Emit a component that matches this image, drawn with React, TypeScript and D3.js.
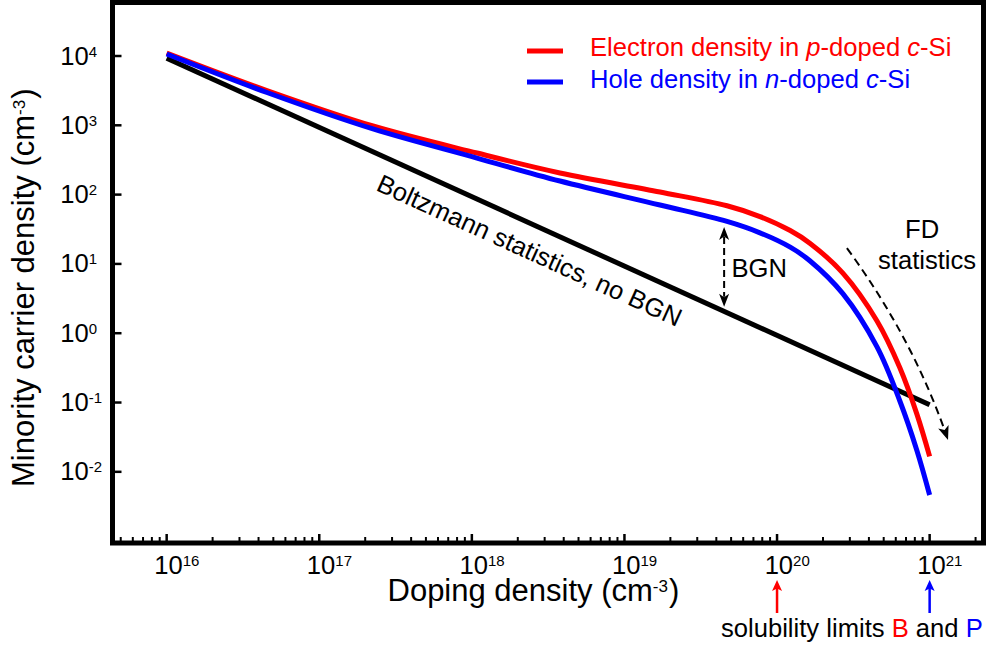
import React from "react";
import * as d3 from "d3";

// ---- data ----
const dopingLevels = [1e16, 4.54e16, 2.25e17, 1.08e18, 3.78e18, 1.71e19, 4.7e19, 7.73e19, 1.22e20, 1.64e20, 2.7e20, 4.52e20, 6.38e20, 8.26e20, 1e21];
const electronDensity = [11040, 3177, 977, 398, 205, 109, 69.0, 48.2, 30.3, 19.9, 7.36, 1.5, 0.317, 0.0675, 0.0167];
const holeDensity = [10690, 2972, 885, 337, 157, 70.8, 41.0, 28.1, 17.46, 11.12, 3.72, 0.634, 0.1052, 0.0202, 0.00463];
const boltzmannDoping = [1e16, 1e21];
const boltzmannDensity = [9300, 0.093];
const xTickExponents = [16, 17, 18, 19, 20, 21];
const yTickExponents = [4, 3, 2, 1, 0, -1, -2];
const solubilityLimits = [1e20, 1e21]; // B (red), P (blue)
const legendLabels = ["Electron density in ", "Hole density in "];

const FONT = '"Liberation Sans", Arial, Helvetica, sans-serif';
const RED = "#ff0000";
const BLUE = "#0000ff";

function arrowPath(tx: number, ty: number, ang: number, len = 12, hw = 5, notch = 3) {
  const ux = Math.cos(ang), uy = Math.sin(ang);
  const px = -uy, py = ux;
  const bx = tx - ux * len, by = ty - uy * len;
  const nx = tx - ux * (len - notch), ny = ty - uy * (len - notch);
  return `M${tx},${ty}L${bx + px * hw},${by + py * hw}L${nx},${ny}L${bx - px * hw},${by - py * hw}Z`;
}

export default function App() {
  const W = 992, H = 647;
  const left = 112.5, right = 983.5, top = 2.5, bottom = 543;
  const x = d3.scaleLog().domain([10 ** 15.645, 10 ** 21.353]).range([left, right]);
  const y = d3.scaleLog().domain([10 ** -3.027, 10 ** 4.772]).range([bottom, top]);
  const line = d3
    .line<[number, number]>()
    .x((d) => x(d[0]))
    .y((d) => y(d[1]))
    .curve(d3.curveCatmullRom.alpha(0.5));

  const redPts = dopingLevels.map((d, i) => [d, electronDensity[i]] as [number, number]);
  const bluePts = dopingLevels.map((d, i) => [d, holeDensity[i]] as [number, number]);
  const blackPts = boltzmannDoping.map((d, i) => [d, boltzmannDensity[i]] as [number, number]);

  const [d0, d1] = x.domain();
  const minorTicks: number[] = [];
  for (let e = 15; e <= 21; e++)
    for (let m = 2; m <= 9; m++) {
      const v = m * 10 ** e;
      if (v > d0 && v < d1) minorTicks.push(v);
    }

  // BGN double arrow
  const bgnX = x(4.5e19);
  const bgnTop = y(34);
  const bgnBot = y(2.4);

  // FD arrow (quadratic curve bowing to the upper right)
  const fs = [x(2.87e20), y(16.9)];
  const fe = [x(1.32e21), y(0.0288)];
  const mx = (fs[0] + fe[0]) / 2, my = (fs[1] + fe[1]) / 2;
  const dx = fe[0] - fs[0], dy = fe[1] - fs[1];
  const dl = Math.hypot(dx, dy);
  const perp = [dy / dl, -dx / dl];
  const fc = [mx + perp[0] * 16, my + perp[1] * 16];
  const endAng = Math.atan2(fe[1] - fc[1], fe[0] - fc[0]);
  const lineEnd = [fe[0] - Math.cos(endAng) * 9, fe[1] - Math.sin(endAng) * 9];

  const boltzAngle =
    (Math.atan2(y(boltzmannDensity[1]) - y(boltzmannDensity[0]), x(boltzmannDoping[1]) - x(boltzmannDoping[0])) * 180) / Math.PI;

  return (
    <svg width={W} height={H} style={{ position: "absolute", left: 0, top: 0, background: "#fff" }} fontFamily={FONT}>
      <rect x={0} y={0} width={W} height={H} fill="#fff" />
      {/* curves */}
      <path d={line(blackPts) || ""} fill="none" stroke="#000" strokeWidth={5} />
      <path d={line(redPts) || ""} fill="none" stroke={RED} strokeWidth={5} />
      <path d={line(bluePts) || ""} fill="none" stroke={BLUE} strokeWidth={5} />

      {/* frame */}
      <rect x={left} y={top} width={right - left} height={bottom - top} fill="none" stroke="#000" strokeWidth={5} />

      {/* x ticks */}
      {minorTicks.map((v, i) => (
        <line key={"mn" + i} x1={x(v)} x2={x(v)} y1={bottom} y2={bottom - 6} stroke="#000" strokeWidth={2} />
      ))}
      {xTickExponents.map((e) => (
        <g key={"xt" + e}>
          <line x1={x(10 ** e)} x2={x(10 ** e)} y1={bottom} y2={bottom - 9} stroke="#000" strokeWidth={2.5} />
          <text x={x(10 ** e) - 12.4} y={574} fontSize={25.6}>
            10
            <tspan fontSize={15} dy={-8}>
              {e}
            </tspan>
          </text>
        </g>
      ))}

      {/* y ticks */}
      {yTickExponents.map((e) => (
        <g key={"yt" + e}>
          <line x1={left} x2={left + 9} y1={y(10 ** e)} y2={y(10 ** e)} stroke="#000" strokeWidth={2.5} />
          <text x={60.2} y={y(10 ** e) + 8.5} fontSize={25.6}>
            10
            <tspan fontSize={15} dy={-8}>
              {e < 0 ? "-" + -e : e}
            </tspan>
          </text>
        </g>
      ))}

      {/* axis titles */}
      <text x={387.5} y={601} fontSize={31}>
        Doping density (cm
        <tspan fontSize={17} dy={-9}>
          -3
        </tspan>
        <tspan dy={9} dx={1}>)</tspan>
      </text>
      <text transform={`translate(34,487) rotate(-90)`} fontSize={31}>
        Minority carrier density (cm
        <tspan fontSize={17} dy={-9}>
          -3
        </tspan>
        <tspan dy={9} dx={1}>)</tspan>
      </text>

      {/* legend */}
      <line x1={527} x2={563} y1={51} y2={51} stroke={RED} strokeWidth={5} />
      <line x1={527} x2={563} y1={82} y2={82} stroke={BLUE} strokeWidth={5} />
      <text x={590} y={56} fontSize={25.6} fill={RED}>
        {legendLabels[0]}
        <tspan fontStyle="italic">p</tspan>-doped <tspan fontStyle="italic">c</tspan>-Si
      </text>
      <text x={590} y={88} fontSize={25.6} fill={BLUE}>
        {legendLabels[1]}
        <tspan fontStyle="italic">n</tspan>-doped <tspan fontStyle="italic">c</tspan>-Si
      </text>

      {/* Boltzmann label */}
      <text transform={`translate(375,190) rotate(${boltzAngle})`} fontSize={25.6}>
        Boltzmann statistics, no BGN
      </text>

      {/* BGN arrow */}
      <line x1={bgnX} x2={bgnX} y1={bgnTop + 10} y2={bgnBot - 10} stroke="#000" strokeWidth={2} strokeDasharray="7,4" />
      <path d={arrowPath(bgnX, bgnTop, -Math.PI / 2, 13, 5, 3.5)} fill="#000" />
      <path d={arrowPath(bgnX, bgnBot, Math.PI / 2, 13, 5, 3.5)} fill="#000" />
      <text x={731.5} y={277} fontSize={25.6}>
        BGN
      </text>

      {/* FD arrow */}
      <path
        d={`M${fs[0]},${fs[1]}Q${fc[0]},${fc[1]} ${lineEnd[0]},${lineEnd[1]}`}
        fill="none"
        stroke="#000"
        strokeWidth={2}
        strokeDasharray="8,5"
      />
      <path d={arrowPath(fe[0], fe[1], endAng, 14, 5.5, 3.5)} fill="#000" />
      <text x={905} y={238} fontSize={25.6}>
        FD
      </text>
      <text x={878} y={269} fontSize={25.6}>
        statistics
      </text>

      {/* solubility limits */}
      {solubilityLimits.map((v, i) => (
        <g key={"sl" + i}>
          <line x1={x(v)} x2={x(v)} y1={613} y2={588} stroke={i === 0 ? RED : BLUE} strokeWidth={2.5} />
          <path d={arrowPath(x(v), 580, -Math.PI / 2, 11, 5, 2.5)} fill={i === 0 ? RED : BLUE} />
        </g>
      ))}
      <text x={721} y={636.7} fontSize={25.6}>
        solubility limits <tspan fill={RED}>B</tspan> and <tspan fill={BLUE}>P</tspan>
      </text>
    </svg>
  );
}
